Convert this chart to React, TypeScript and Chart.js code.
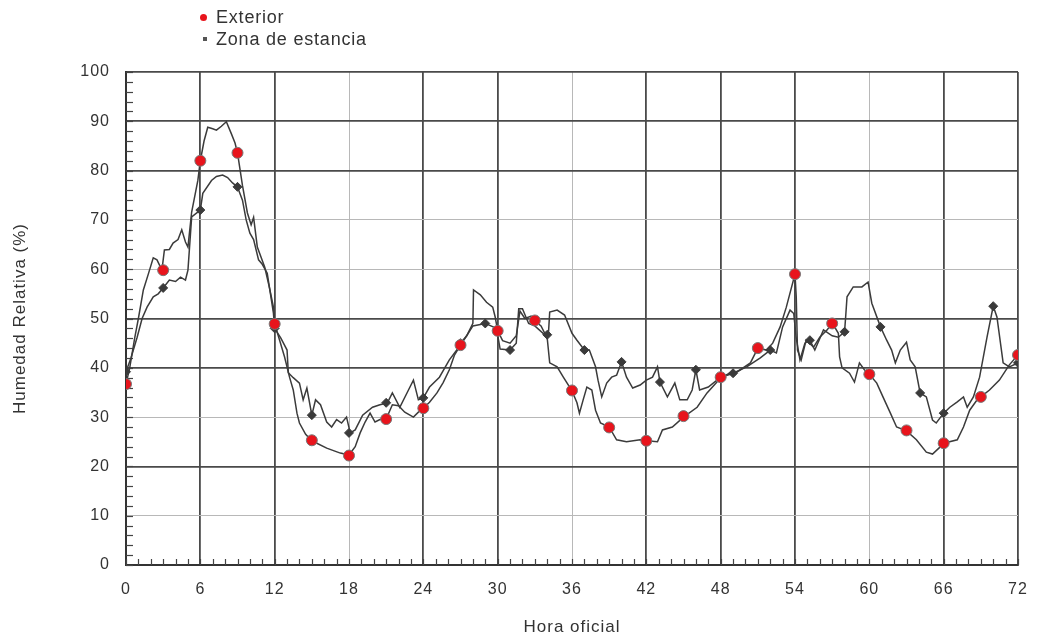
import React, { useEffect, useRef } from 'react';
import { Chart, registerables } from 'chart.js';

Chart.register(...registerables);

// ---- Data ----
const extHours = [
  0, 0.3, 0.7, 1.0, 1.4, 1.8, 2.2, 2.5, 2.9, 3.1, 3.5, 3.8, 4.2, 4.5, 4.8, 5.0, 5.3, 5.8,
  6.0, 6.3, 6.6, 7.0, 7.3, 7.7, 8.1, 8.5, 8.8, 9.0, 9.4, 9.8, 10.1, 10.3, 10.6, 11.2, 11.6, 11.9,
  12.0, 12.4, 12.8, 13.2, 13.5, 13.8, 14.0, 14.5, 15.0, 16.2, 17.3, 18.0, 18.5, 18.9, 19.3, 19.7,
  20.1, 20.5, 21.0, 21.5, 22.0, 22.5, 23.2, 23.6, 24.0, 24.5, 25.1, 25.6, 26.1, 26.5, 27.0, 27.5,
  28.0, 28.05, 28.6, 29.1, 29.6, 29.8, 30.0, 30.4, 31.0, 31.5, 31.8, 32.2, 32.7, 33.0, 33.5, 34.0,
  34.2, 34.8, 35.3, 36.0, 36.4, 36.6, 36.9, 37.2, 37.6, 37.9, 38.3, 39.0, 39.6, 40.4, 41.5, 42.0,
  42.9, 43.3, 44.1, 45.0, 46.1, 46.9, 47.7, 48.0, 49.3, 50.4, 51.0, 51.7, 52.2, 52.8, 53.3, 54.0,
  54.1, 54.2, 54.5, 54.9, 55.5, 56.0, 56.6, 57.0, 57.5, 57.6, 57.8, 58.4, 58.8, 59.2, 59.6, 60.0,
  60.6, 61.1, 61.7, 62.2, 63.0, 63.8, 64.6, 65.1, 65.7, 66.0, 67.1, 67.6, 68.1, 68.7, 69.0, 69.7,
  70.5, 71.3, 72.0,
];
const extValues = [
  36.7, 40, 46, 50, 55.8, 59, 62.3, 61.9, 59.8, 63.9, 64, 65.3, 66, 68, 65.5, 64.5, 71.6, 78,
  82, 86, 88.8, 88.5, 88.2, 89, 89.9, 87.5, 85.6, 83.6, 77, 71.4, 69, 70.5, 64.5, 60.4, 56, 52.3,
  48.9, 45.6, 42.2, 38.1, 35.5, 30.8, 28.8, 26.5, 25.2, 23.7, 22.7, 22.3, 24, 26.8, 29, 30.8,
  29, 29.5, 29.6, 32.5, 32.3, 31, 30, 31, 31.8, 33, 34.9, 37, 39.6, 42.5, 44.6, 46.5,
  49, 55.8, 54.8, 53.3, 52.3, 50.3, 47.5, 45.5, 45, 46.5, 51.5, 50, 50.5, 49.5, 48.5, 46,
  41, 40.2, 38.1, 35.3, 32.9, 30.8, 33.5, 36.1, 35.5, 31.4, 28.8, 28, 25.4, 25, 25.4, 25.2,
  25, 27.4, 28, 30, 32, 34.9, 37.1, 38.1, 39.1, 41, 44, 43.6, 45, 48.3, 52.3, 59,
  54.4, 43.6, 41.6, 45.6, 44.2, 46.2, 47.7, 49.1, 47, 42.2, 40, 38.9, 37.1, 41, 39.6, 38.7,
  36.9, 34.1, 30.8, 28, 27.2, 25.4, 22.9, 22.5, 23.9, 24.7, 25.4, 28, 31.4, 33.5, 34.1, 35.5,
  37.5, 40.6, 42.6,
];

const zonaHours = [
  0, 0.4, 0.9, 1.3, 1.7, 2.2, 2.6, 3.0, 3.5, 4.0, 4.4, 4.8, 5.0, 5.3, 6.0, 6.2, 6.9, 7.3, 7.8,
  8.2, 8.6, 9.0, 9.4, 9.7, 10.0, 10.3, 10.7, 11.0, 11.4, 11.9, 12.0, 12.5, 13.0, 13.1, 13.5, 14.0,
  14.3, 14.6, 15.0, 15.3, 15.7, 16.2, 16.6, 17.0, 17.4, 17.8, 18.1, 18.5, 19.1, 19.9, 20.5, 21.1,
  21.5, 22.1, 22.8, 23.2, 23.6, 24.0, 24.5, 25.3, 26.1, 26.7, 27.0, 27.5, 28.0, 29.0, 29.9, 30.2,
  31.0, 31.5, 31.7, 32.0, 32.5, 33.0, 33.8, 34.1, 34.2, 34.8, 35.4, 36.0, 36.4, 37.0, 37.4, 37.9,
  38.1, 38.4, 38.8, 39.2, 39.6, 40.0, 40.4, 40.9, 41.5, 42.0, 42.5, 42.9, 43.1, 43.7, 44.3, 44.7,
  45.3, 45.7, 46.0, 46.3, 47.0, 47.7, 48.7, 49.0, 50.1, 51.2, 52.0, 52.5, 53.0, 53.6, 53.9, 54.1,
  54.4, 54.8, 55.2, 55.6, 56.3, 57.0, 57.5, 58.0, 58.1, 58.2, 58.7, 59.4, 59.9, 60.2, 60.9, 61.4,
  61.8, 62.1, 62.5, 63.0, 63.3, 63.7, 64.1, 64.6, 65.1, 65.4, 66.0, 66.5, 67.1, 67.6, 67.9, 68.4,
  68.9, 69.5, 70.0, 70.3, 70.8, 71.3, 72.0,
];
const zonaValues = [
  39.2, 42, 46.2, 50, 52.3, 54.4, 55, 56.2, 57.8, 57.5, 58.4, 57.8, 59.8, 70.6, 72, 75.4, 78, 78.8, 79.1,
  78.6, 77.5, 76.7, 74, 70, 67.3, 66, 61.9, 61, 59.2, 51.1, 48, 46, 43.6, 39, 38, 36.9,
  33.5, 35.9, 30.4, 33.5, 32.5, 29, 28, 29.5, 28.8, 30, 26.8, 27.4, 30.4, 32, 32.5, 32.9,
  34.9, 32, 35.5, 37.5, 33.5, 33.9, 36.1, 38.1, 41.6, 43.6, 45, 46.5, 48.5, 49, 48, 43.8,
  43.6, 45, 52, 52, 49, 48.5, 46.7, 47, 51.3, 51.7, 50.7, 47, 45.6, 43.6, 43.6, 40.2,
  37.5, 34.1, 36.9, 38.1, 38.5, 41.2, 38.1, 35.9, 36.5, 37.5, 38.1, 40.2, 37.1, 34.1, 36.9, 33.5,
  33.5, 35.5, 39.6, 35.5, 36.1, 37.5, 38.9, 38.9, 40.2, 42, 43.6, 43, 48.3, 51.7, 51, 46,
  41.6, 45, 45.6, 43.6, 47.7, 46.5, 46.2, 47.3, 50.7, 54.4, 56.4, 56.4, 57.4, 53.1, 48.3, 45.6,
  43.6, 41, 43.6, 45.2, 41.6, 40.2, 34.9, 34.1, 29.4, 28.8, 30.8, 32, 33.1, 34.1, 32, 34.1,
  38.1, 46.2, 52.5, 50.3, 41, 40.2, 41,
];

const extMarkHours = [0, 3, 6, 9, 12, 15, 18, 21, 24, 27, 30, 33, 36, 39, 42, 45, 48, 51, 54, 57, 60, 63, 66, 69, 72];
const extMarkValues = [36.7, 59.8, 82, 83.6, 48.9, 25.3, 22.2, 29.6, 31.8, 44.6, 47.5, 49.6, 35.4, 27.9, 25.2, 30.2, 38.1, 44, 59, 49, 38.7, 27.3, 24.7, 34.1, 42.6];

const zonaMarkHours = [0, 3, 6, 9, 12, 15, 18, 21, 24, 27, 29, 31, 34, 37, 40, 43.1, 46, 49, 52, 55.2, 58, 60.9, 64.1, 66, 70, 72];
const zonaMarkValues = [39.2, 56.2, 72, 76.7, 48, 30.4, 26.8, 32.9, 33.9, 45, 49, 43.6, 46.7, 43.6, 41.2, 37.1, 39.6, 38.9, 43.6, 45.6, 47.3, 48.3, 34.9, 30.8, 52.5, 41];

const xTickLabels = ['0', '6', '12', '18', '24', '30', '36', '42', '48', '54', '60', '66', '72'];
const yTickLabels = ['0', '10', '20', '30', '40', '50', '60', '70', '80', '90', '100'];
const lightYGrid = [10, 30, 60, 70];
const lightXGrid = [18, 36, 60];

const seriesNames = ['Exterior', 'Zona de estancia'];
const xTitle = 'Hora oficial';
const yTitle = 'Humedad Relativa (%)';

const toPoints = (xs: number[], ys: number[]) => xs.map((x, i) => ({ x, y: ys[i] }));

const FONT = "'Liberation Sans', Arial, sans-serif";
const LETTER_SPACING = '1px';

const minorTicks = {
  id: 'minorTicks',
  beforeDatasetsDraw(chart: any) {
    const { ctx, chartArea, scales } = chart;
    const x = scales.x;
    const y = scales.y;
    ctx.save();
    ctx.strokeStyle = '#444';
    ctx.lineWidth = 1.2;
    for (let v = 0; v <= 100; v += 2) {
      const py = Math.round(y.getPixelForValue(v)) + 0.5;
      ctx.beginPath();
      ctx.moveTo(chartArea.left, py);
      ctx.lineTo(chartArea.left + 7, py);
      ctx.stroke();
    }
    for (let h = 0; h <= 72; h += 1) {
      const px = Math.round(x.getPixelForValue(h)) + 0.5;
      ctx.beginPath();
      ctx.moveTo(px, chartArea.bottom);
      ctx.lineTo(px, chartArea.bottom - 6);
      ctx.stroke();
    }
    ctx.restore();
  },
};

const spacing = {
  id: 'spacing',
  beforeInit(chart: any) {
    chart.ctx.letterSpacing = LETTER_SPACING;
  },
  beforeLayout(chart: any) {
    chart.ctx.letterSpacing = LETTER_SPACING;
  },
  beforeDraw(chart: any) {
    chart.ctx.letterSpacing = LETTER_SPACING;
  },
};

export default function App() {
  const ref = useRef<HTMLCanvasElement | null>(null);

  useEffect(() => {
    if (!ref.current) return;
    const chart = new Chart(ref.current, {
      type: 'line',
      data: {
        datasets: [
          {
            label: seriesNames[0] + ' marcas',
            data: toPoints(extMarkHours, extMarkValues),
            showLine: false,
            pointRadius: 5.5,
            pointBackgroundColor: '#e8141c',
            pointBorderColor: '#777',
            pointBorderWidth: 1,
            order: 0,
          },
          {
            label: seriesNames[1] + ' marcas',
            data: toPoints(zonaMarkHours, zonaMarkValues),
            showLine: false,
            pointStyle: 'rectRot',
            pointRadius: 4.5,
            pointBackgroundColor: '#3a3a3a',
            pointBorderColor: '#3a3a3a',
            pointBorderWidth: 1,
            order: 1,
          },
          {
            label: seriesNames[0],
            data: toPoints(extHours, extValues),
            borderColor: '#3b3b3b',
            borderWidth: 1.5,
            pointRadius: 0,
            tension: 0,
            order: 2,
          },
          {
            label: seriesNames[1],
            data: toPoints(zonaHours, zonaValues),
            borderColor: '#3b3b3b',
            borderWidth: 1.5,
            pointRadius: 0,
            tension: 0,
            order: 3,
          },
        ],
      },
      options: {
        animation: false,
        responsive: false,
        devicePixelRatio: 1,
        layout: { padding: { left: 0, right: 22, top: 72, bottom: 0 } },
        plugins: {
          legend: { display: false },
          tooltip: { enabled: false },
        },
        scales: {
          x: {
            type: 'linear',
            min: 0,
            max: 72,
            afterFit: (s: any) => {
              s.height = 76;
              s.paddingLeft = 0;
              s.paddingRight = 0;
            },
            ticks: {
              stepSize: 6,
              padding: 15,
              color: '#333',
              font: { family: FONT, size: 16 },
              callback: (v: any) => xTickLabels[Math.round(Number(v) / 6)] ?? '',
            },
            grid: {
              drawTicks: false,
              color: (c: any) => (lightXGrid.includes(c.tick?.value) ? '#b8b8b8' : '#4a4a4a'),
              lineWidth: (c: any) => (lightXGrid.includes(c.tick?.value) ? 1 : 1.8),
            },
            border: { display: true, color: '#333', width: 2 },
            title: {
              display: true,
              text: xTitle,
              color: '#333',
              font: { family: FONT, size: 17 },
              padding: { top: 0, bottom: 3 },
            },
          },
          y: {
            type: 'linear',
            min: 0,
            max: 100,
            afterFit: (s: any) => {
              s.width = 126;
              s.paddingTop = 0;
              s.paddingBottom = 0;
            },
            ticks: {
              stepSize: 10,
              padding: 16,
              color: '#333',
              font: { family: FONT, size: 16 },
              callback: (v: any) => yTickLabels[Math.round(Number(v) / 10)] ?? '',
            },
            grid: {
              drawTicks: false,
              color: (c: any) => (lightYGrid.includes(c.tick?.value) ? '#b8b8b8' : '#4a4a4a'),
              lineWidth: (c: any) => (lightYGrid.includes(c.tick?.value) ? 1 : 1.8),
            },
            border: { display: true, color: '#333', width: 2 },
            title: {
              display: true,
              text: yTitle,
              color: '#333',
              font: { family: FONT, size: 17 },
              padding: { top: 10, bottom: 0 },
            },
          },
        },
      },
      plugins: [minorTicks, spacing],
    } as any);
    return () => chart.destroy();
  }, []);

  const legendText: React.CSSProperties = {
    position: 'absolute',
    left: 216,
    fontFamily: FONT,
    fontSize: 18,
    letterSpacing: '0.8px',
    color: '#333',
    lineHeight: '20px',
    whiteSpace: 'nowrap',
  };

  return (
    <div
      style={{
        position: 'fixed',
        left: 0,
        top: 0,
        width: 1040,
        height: 641,
        background: '#fff',
        overflow: 'hidden',
      }}
    >
      <canvas ref={ref} width={1040} height={641} style={{ position: 'absolute', left: 0, top: 0 }} />
      <div
        style={{
          position: 'absolute',
          left: 200,
          top: 14,
          width: 7,
          height: 7,
          borderRadius: '50%',
          background: '#e8141c',
        }}
      />
      <div style={{ ...legendText, top: 7 }}>{seriesNames[0]}</div>
      <div
        style={{
          position: 'absolute',
          left: 203,
          top: 37,
          width: 4,
          height: 4,
          background: '#555',
        }}
      />
      <div style={{ ...legendText, top: 29 }}>{seriesNames[1]}</div>
    </div>
  );
}
